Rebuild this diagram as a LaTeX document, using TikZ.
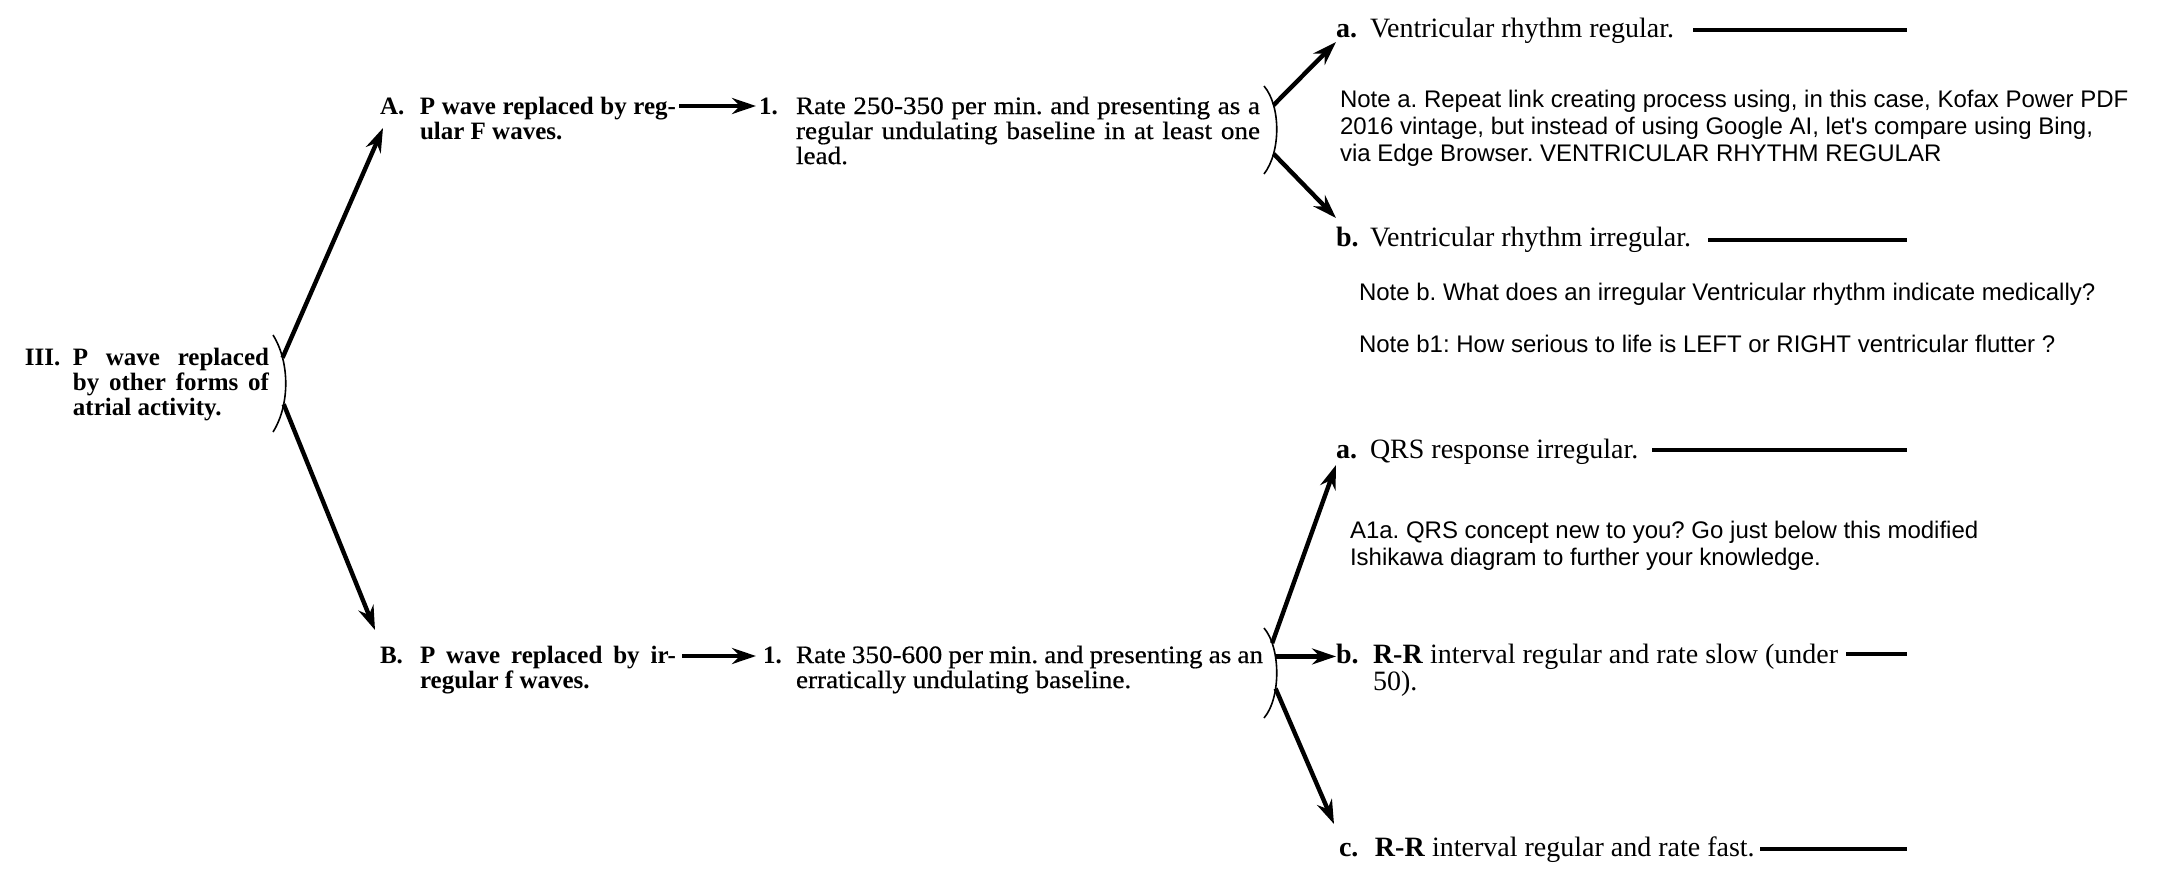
\documentclass[tikz,border=0pt]{standalone}
\usepackage{fontspec}
\setmainfont{Liberation Serif}
\newfontfamily\mainb{Liberation Serif}
\newfontfamily\mainr[FakeStretch=1.085,FakeBold=0.6]{Liberation Serif}
\newfontfamily\labf{Liberation Serif}
\newfontfamily\notef{Liberation Sans}
\usetikzlibrary{arrows.meta}
\frenchspacing
\begin{document}
\begin{tikzpicture}[x=0.5pt,y=-0.5pt,
  txt/.style={inner sep=0pt,outer sep=0pt,anchor=base west},
  mtxt/.style={txt,font=\mainb\bfseries\fontsize{12.5}{12.5}\selectfont},
  ltxt/.style={txt,font=\labf\fontsize{14}{12.5}\selectfont},
  ntxt/.style={txt,font=\notef\fontsize{12}{13.5}\selectfont},
  arr/.style={line width=2.2pt,-{Stealth[length=12pt,width=8pt]}},
  brk/.style={line width=0.8pt},
  rulel/.style={line width=2.2pt}]
\useasboundingbox (0,0) rectangle (2164,869);

% left and middle texts
\node[mtxt] (III) at (25,365) {\makebox[24pt][l]{III.}\parbox[t]{98pt}{\makebox[98pt][s]{P wave replaced}\\\makebox[98pt][s]{by other forms of}\\atrial activity.}};
\node[mtxt] (A) at (380,114) {\makebox[20pt][l]{A.}\parbox[t]{128pt}{\makebox[128pt][s]{P wave replaced by reg-}\\ular F waves.}};
\node[mtxt] (B) at (380,663) {\makebox[20pt][l]{B.}\parbox[t]{128pt}{\makebox[128pt][s]{P wave replaced by ir-}\\regular f waves.}};
\node[mtxt] (R1) at (759,114) {\makebox[18.5pt][l]{1.}\parbox[t]{232pt}{\mainr\mdseries\makebox[232pt][s]{Rate 250-350 per min. and presenting as a}\\\makebox[232pt][s]{regular undulating baseline in at least one}\\lead.}};
\node[mtxt] (R2) at (763,663) {\makebox[16.5pt][l]{1.}\parbox[t]{233.5pt}{\mainr\mdseries\makebox[233.5pt][s]{Rate 350-600 per min. and presenting as an}\\erratically undulating baseline.}};

% right labels
\node[ltxt] (a1) at (1336,37) {\makebox[17pt][l]{\bfseries a.}Ventricular rhythm regular.};
\node[ltxt] (b1) at (1336,246) {\makebox[17pt][l]{\bfseries b.}Ventricular rhythm irregular.};
\node[ltxt] (a2) at (1336,458) {\makebox[17pt][l]{\bfseries a.}QRS response irregular.};
\node[ltxt] (b2) at (1336,663) {\makebox[18.5pt][l]{\bfseries b.}\parbox[t]{240pt}{\raggedright\textbf{R-R} interval regular and rate slow (under\\50).}};
\node[ltxt] (c2) at (1339,856) {\makebox[18pt][l]{\bfseries c.}\textbf{R-R} interval regular and rate fast.};

% notes
\node[ntxt] (na) at (1340,107) {\parbox[t]{420pt}{\raggedright Note a. Repeat link creating process using, in this case, Kofax Power PDF\\2016 vintage, but instead of using Google AI, let's compare using Bing,\\via Edge Browser. VENTRICULAR RHYTHM REGULAR}};
\node[ntxt] (nb) at (1359,300) {Note b. What does an irregular Ventricular rhythm indicate medically?};
\node[ntxt] (nb1) at (1359,352) {Note b1: How serious to life is LEFT or RIGHT ventricular flutter ?};
\node[ntxt] (n1a) at (1350,538) {\parbox[t]{420pt}{\raggedright A1a. QRS concept new to you? Go just below this modified\\Ishikawa diagram to further your knowledge.}};

% brackets
\draw[brk] (273,335) .. controls (290,362) and (290,405) .. (273,432) coordinate[pos=.25] (j0a) coordinate[pos=.7] (j0b);
\draw[brk] (1264,86) .. controls (1281,106) and (1281,152) .. (1264,174) coordinate[pos=.25] (j1a) coordinate[pos=.75] (j1b);
\draw[brk] (1264,628) .. controls (1281,648) and (1281,698) .. (1264,718) coordinate[pos=.2] (j2a) coordinate[pos=.34] (j2m) coordinate[pos=.65] (j2b);

% connectors
\draw[arr] (j0a) -- ([shift={(3,14)}]A.base west);
\draw[arr] (j0b) -- ([shift={(-5,-33)}]B.base west);
\draw[arr] ([shift={(3,-8)}]A.base east) -- ([shift={(-3,-8)}]R1.base west);
\draw[arr] ([shift={(6,-7)}]B.base east) -- ([shift={(-7,-7)}]R2.base west);
\draw[arr] (j1a) -- ([shift={(0,5)}]a1.base west);
\draw[arr] (j1b) -- ([shift={(0,-28)}]b1.base west);
\draw[arr] (j2a) -- ([shift={(0,7)}]a2.base west);
\draw[arr] (j2m) -- (j2m -| b2.base west);
\draw[arr] (j2b) -- ([shift={(-5,-32)}]c2.base west);

% trailing rules
\draw[rulel] (1693,30) -- (1907,30);
\draw[rulel] (1708,240) -- (1907,240);
\draw[rulel] (1652,450) -- (1907,450);
\draw[rulel] (1846,654) -- (1907,654);
\draw[rulel] (1760,849) -- (1907,849);
\end{tikzpicture}
\end{document}
